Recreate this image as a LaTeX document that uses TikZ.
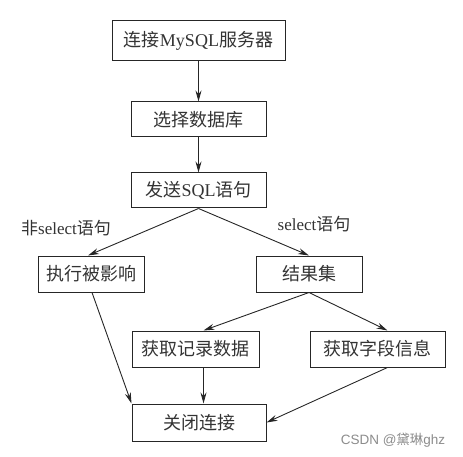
\documentclass[tikz,border=0pt]{standalone}
\usepackage{fontspec}
\setmainfont{Liberation Serif}
\newfontfamily\cjk{Noto Sans CJK SC}
\newfontfamily\wmfont{Liberation Sans}
\usetikzlibrary{arrows.meta,calc}
\newcommand\zh[1]{{\cjk #1}}
\begin{document}
\begin{tikzpicture}[x=1pt,y=-1pt,
  box/.style={draw=black!85,line width=1pt,inner sep=0pt,font=\fontsize{18}{21}\selectfont,text=black!80},
  arr/.style={draw=black!85,line width=0.9pt,-{Stealth[length=11pt,width=6pt]}},
  lbl/.style={font=\fontsize{17}{20}\selectfont,text=black!80,inner sep=0pt}]
\useasboundingbox (0,0) rectangle (463,457);
\node[box,minimum width=173pt,minimum height=40pt] (b1) at (198.5,41) {\zh{连接}MySQL\zh{服务器}};
\node[box,minimum width=135pt,minimum height=35pt] (b2) at (198.5,119.5) {\zh{选择数据库}};
\node[box,minimum width=135pt,minimum height=35pt] (b3) at (198.5,190.5) {\zh{发送}SQL\zh{语句}};
\node[box,minimum width=106pt,minimum height=36pt] (b4) at (91,274) {\zh{执行被影响}};
\node[box,minimum width=106pt,minimum height=36pt] (b5) at (309,274) {\zh{结果集}};
\node[box,minimum width=127pt,minimum height=36pt] (b6) at (195.5,349) {\zh{获取记录数据}};
\node[box,minimum width=135pt,minimum height=36pt] (b7) at (377.5,349) {\zh{获取字段信息}};
\node[box,minimum width=134pt,minimum height=37pt] (b8) at (199,422.5) {\zh{关闭连接}};
\node[lbl] (l1) at (66,228) {\zh{非}select\zh{语句}};
\node[lbl] (l2) at (314,224) {select\zh{语句}};
\node[font=\wmfont\fontsize{13.5}{15}\selectfont,text=black!45,inner sep=0pt] (wm) at (393,440) {CSDN @\zh{黛琳}ghz};
\draw[arr] (b1.south) -- (b2.north);
\draw[arr] (b2.south) -- (b3.north);
\draw[arr] (b3.south) -- ([xshift=-3pt]b4.north);
\draw[arr] (b3.south) -- (b5.north);
\draw[arr] (b5.south) -- ([xshift=8pt]b6.north);
\draw[arr] (b5.south) -- ([xshift=10pt]b7.north);
\draw[arr] ([xshift=1pt]b4.south) -- (b8.north west);
\draw[arr] ([xshift=8pt]b6.south) -- ([xshift=8pt]b6.south |- b8.north);
\draw[arr] ([xshift=10pt]b7.south) -- (b8.east);
\end{tikzpicture}
\end{document}
